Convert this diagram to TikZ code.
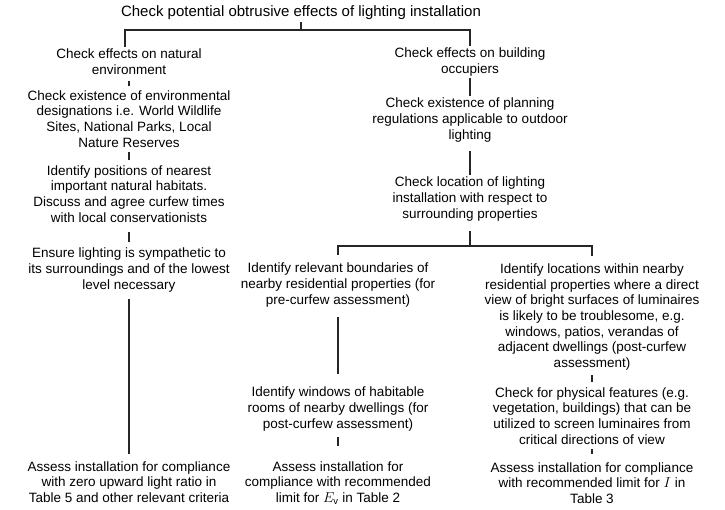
\documentclass[tikz,border=0pt]{standalone}
\usepackage{fontspec}
\setmainfont{Liberation Sans}
\begin{document}
\begin{tikzpicture}
		[x=1pt,y=-1pt,
		box/.style={align=center,inner sep=2pt,font=\fontsize{13.5}{15.7}\selectfont},
		headbox/.style={inner sep=2pt,font=\fontsize{15}{18}\selectfont},
		wire/.style={-,line width=1.1pt,black!85},
		link/.style={wire,shorten <=#1,shorten >=#1},
		link/.default=2pt]
		\useasboundingbox (0,0) rectangle (725,509);
		\node at (301,13) (top) [headbox] {Check potential obtrusive effects of lighting installation};
		% natural environment
		\node at (129,62) (nat) [box] {Check effects on natural\\environment};
		\node at (129,119) (natdes) [box] {Check existence of environmental\\designations i.e. World Wildlife\\Sites, National Parks, Local\\Nature Reserves}
			edge [link,shorten <=2pt,shorten >=3.5pt] (nat);
		\node at (129,194) (nathab) [box] {Identify positions of nearest\\important natural habitats.\\Discuss and agree curfew times\\with local conservationists}
			edge [link,shorten <=3pt,shorten >=2.5pt] (natdes);
		\node at (129,270) (natsym) [box] {Ensure lighting is sympathetic to\\its surroundings and of the lowest\\level necessary}
			edge [link,shorten <=4pt,shorten >=7.5pt] (nathab);
		\node at (129,482) (natass) [box] {Assess installation for compliance\\with zero upward light ratio in\\Table 5 and other relevant criteria}
			edge [link=5pt] (natsym);
		% building occupiers
		\node at (470,62) (bld) [box] {Check effects on building\\occupiers};
		\node at (470,120) (bldreg) [box] {Check existence of planning\\regulations applicable to outdoor\\lighting}
			edge [link=0pt] (bld);
		\node at (470,199) (bldloc) [box] {Check location of lighting\\installation with respect to\\surrounding properties}
			edge [link,shorten <=0pt,shorten >=7pt] (bldreg);
		\node at (338,285) (bound) [box] {Identify relevant boundaries of\\nearby residential properties (for\\pre-curfew assessment)};
		\node at (338,409) (win) [box] {Identify windows of habitable\\rooms of nearby dwellings (for\\post-curfew assessment)}
			edge [link,shorten <=11pt,shorten >=8pt] (bound);
		\node at (338,483) (assev) [box] {Assess installation for\\compliance with recommended\\limit for $E_{\mathrm{v}}$ in Table 2}
			edge [link,shorten <=13pt,shorten >=4pt] (win);
		\node at (592,317) (locs) [box] {Identify locations within nearby\\residential properties where a direct\\view of bright surfaces of luminaires\\is likely to be troublesome, e.g.\\windows, patios, verandas of\\adjacent dwellings (post-curfew\\assessment)};
		\node at (592,416) (feat) [box] {Check for physical features (e.g.\\vegetation, buildings) that can be\\utilized to screen luminaires from\\critical directions of view}
			edge [link,shorten <=3pt,shorten >=2pt] (locs);
		\node at (592,483) (assi) [box] {Assess installation for compliance\\with recommended limit for $I$ in\\Table 3}
			edge [link,shorten <=6pt,shorten >=2pt] (feat);
		% branching bars
		\coordinate (split1) at (301,30);
		\coordinate (split2) at (470,246);
		\draw [wire] (top.south) -- (split1);
		\draw [wire] ([xshift=-4pt]nat.north) |- (split1) -| (bld.north);
		\draw [wire,shorten <=8pt] (bldloc.south) -- (split2);
		\draw [wire,shorten <=6pt,shorten >=5pt] (bound.north) |- (split2) -| (locs.north);
	\end{tikzpicture}
\end{document}
